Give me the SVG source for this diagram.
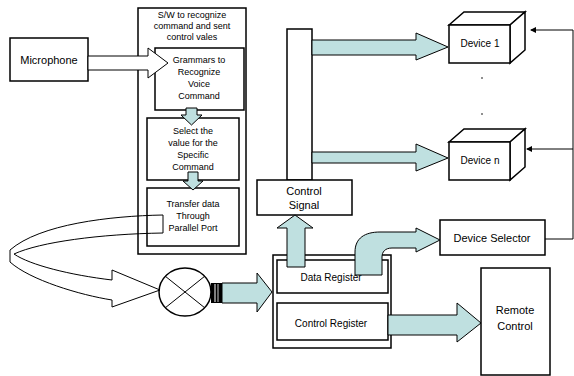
<svg xmlns="http://www.w3.org/2000/svg" width="574" height="376" viewBox="0 0 574 376">
<defs>
<style>
.box{fill:#fff;stroke:#000;stroke-width:1.5}
.t{font-family:"Liberation Sans",Arial,sans-serif;font-size:9px;fill:#000;text-anchor:middle}
.tm{font-family:"Liberation Sans",Arial,sans-serif;font-size:10px;fill:#000;text-anchor:middle}
.tl{font-family:"Liberation Sans",Arial,sans-serif;font-size:11px;fill:#000;text-anchor:middle}
.teal{fill:#bfe0e0;stroke:#000;stroke-width:1}
.hollow{fill:#fff;stroke:#000;stroke-width:1}
.ln{fill:none;stroke:#000;stroke-width:1}
</style>
<marker id="ah" markerWidth="6" markerHeight="6" refX="5" refY="3" orient="auto" markerUnits="userSpaceOnUse">
<path d="M0,0 L6,3 L0,6 z" fill="#000"/>
</marker>
</defs>
<rect width="574" height="376" fill="#fff"/>

<g id="sw">
<rect class="box" x="138" y="8" width="108" height="246"/>
<text class="t" x="192" y="18">S/W to recognize</text>
<text class="t" x="192" y="29">command and sent</text>
<text class="t" x="192" y="40">control vales</text>
</g>
<g id="microphone">
<rect class="box" x="10" y="38" width="78" height="43"/>
<text class="tl" x="49" y="64" font-size="12">Microphone</text>
</g>
<g id="grammars">
<rect class="box" x="155" y="48" width="89" height="62"/>
<text class="t" x="199" y="63">Grammars to</text>
<text class="t" x="199" y="75">Recognize</text>
<text class="t" x="199" y="87">Voice</text>
<text class="t" x="199" y="99">Command</text>
</g>
<g id="select">
<rect class="box" x="147" y="118" width="92" height="62"/>
<text class="t" x="193" y="134">Select the</text>
<text class="t" x="193" y="146">value for the</text>
<text class="t" x="193" y="158">Specific</text>
<text class="t" x="193" y="170">Command</text>
</g>
<g id="transfer">
<rect class="box" x="147" y="188" width="92" height="58"/>
<text class="t" x="193" y="207">Transfer data</text>
<text class="t" x="193" y="219">Through</text>
<text class="t" x="193" y="231">Parallel Port</text>
</g>
<g id="bus">
<rect class="box" x="287" y="29" width="25" height="151"/>
</g>
<g id="control-signal">
<rect class="box" x="257" y="180" width="95" height="35"/>
<text class="tl" x="304" y="195">Control</text>
<text class="tl" x="304" y="209">Signal</text>
</g>
<g id="device1">
<polygon class="box" points="449,25 464,12 525,12 510,25"/>
<polygon class="box" points="510,25 525,12 525,50 510,63"/>
<rect class="box" x="449" y="25" width="61" height="38"/>
<text class="tm" x="480" y="47">Device 1</text>
</g>
<g id="dots">
<circle cx="482" cy="78" r="0.8" fill="#000"/>
<circle cx="482" cy="114" r="0.8" fill="#000"/>
</g>
<g id="devicen">
<polygon class="box" points="449,142 464,129 525,129 510,142"/>
<polygon class="box" points="510,142 525,129 525,167 510,180"/>
<rect class="box" x="449" y="142" width="61" height="38"/>
<text class="tm" x="480" y="164">Device n</text>
</g>
<g id="device-selector">
<rect class="box" x="440" y="220" width="105" height="35"/>
<text class="tl" x="492" y="242" font-size="12">Device Selector</text>
</g>
<g id="registers">
<rect class="box" x="273" y="255" width="118" height="93"/>
<rect class="box" x="277" y="260" width="111" height="33"/>
<text class="tm" x="331" y="281">Data Register</text>
<rect class="box" x="277" y="303" width="111" height="37"/>
<text class="tm" x="331" y="327">Control Register</text>
</g>
<g id="remote">
<rect class="box" x="481" y="268" width="69" height="107"/>
<text class="tl" x="515" y="314">Remote</text>
<text class="tl" x="515" y="330">Control</text>
</g>
<g id="switch">
<ellipse class="box" cx="185" cy="292" rx="26" ry="24" stroke-width="1"/>
<line class="ln" x1="165" y1="276" x2="205" y2="308"/>
<line class="ln" x1="165" y1="308" x2="205" y2="276"/>
<rect x="211" y="283" width="11" height="20" fill="#000"/>
<line x1="215" y1="284" x2="215" y2="302" stroke="#fff" stroke-width="1"/>
<line x1="218" y1="284" x2="218" y2="302" stroke="#fff" stroke-width="0.8"/>
</g>

<g id="connectors">
<path class="hollow" d="M88,56 L148,56 L148,48 L168,63 L148,78 L148,70 L88,70 Z"/>
<path class="teal" d="M186,108 L197,108 L197,115 L202,115 L191.5,125 L181,115 L186,115 Z"/>
<path class="teal" d="M188,172 L198,172 L198,181 L203,181 L193,190 L183,181 L188,181 Z"/>
<path class="ln" d="M163,215 C110,216 40,224 10,250 L10,262 C30,280 80,295 112,300 L112,307 L160,290 L112,270 L112,280 C70,275 30,265 14,254 C40,242 100,234 163,233 Z"/>
<path class="teal" d="M222,283 L257,283 L257,273 L272,292 L257,312 L257,303 L222,303 Z"/>
<path class="teal" d="M287,267 L287,228 L277,228 L295,215 L313,228 L305,228 L305,267 Z"/>
<path class="teal" d="M355,275 L355,252 C355,238 365,232 380,232 L416,232 L416,228 L440,240 L416,252 L416,248 L392,248 C385,248 382,252 382,257 L382,275 Z"/>
<path class="teal" d="M312,40 L416,40 L416,33 L448,47 L416,60 L416,55 L312,55 Z"/>
<path class="teal" d="M312,152 L416,152 L416,144 L448,158 L416,171 L416,163 L312,163 Z"/>
<path class="teal" d="M388,315 L457,315 L457,303 L481,323 L457,342 L457,335 L388,335 Z"/>
<polyline class="ln" points="545,239 573,239 573,30 531,30" marker-end="url(#ah)"/>
<line class="ln" x1="573" y1="149" x2="527" y2="149" marker-end="url(#ah)"/>
</g>
</svg>
